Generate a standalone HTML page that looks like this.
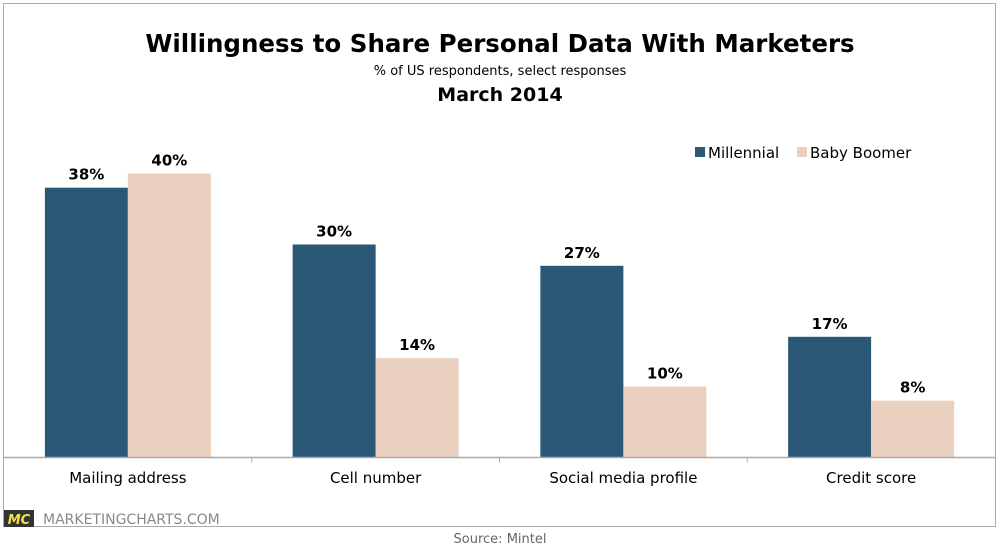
<!DOCTYPE html>
<html><head><meta charset="utf-8"><style>
body{margin:0;background:#fff;width:1000px;height:550px;overflow:hidden;font-family:"DejaVu Sans","Liberation Sans",sans-serif}
</style></head><body>
<svg width="1000" height="550">
<rect x="3.5" y="3.5" width="992" height="523" fill="none" stroke="#aaa"/>
<text x="500" y="52" text-anchor="middle" font-family="DejaVu Sans, sans-serif" font-weight="bold" font-size="24.5" fill="#000">Willingness to Share Personal Data With Marketers</text>
<text x="500" y="75" text-anchor="middle" font-size="13" fill="#000">% of US respondents, select responses</text>
<text x="500" y="101" text-anchor="middle" font-weight="bold" font-size="19" fill="#000">March 2014</text>
<g>
<rect x="695" y="147" width="10" height="10" fill="#2b5877"/>
<text x="708" y="158" font-size="15">Millennial</text>
<rect x="797" y="147" width="10" height="10" fill="#ead1bf"/>
<text x="810" y="158" font-size="15">Baby Boomer</text>
</g>
<g id="plot"></g>
<rect x="4" y="510" width="30" height="17" fill="#333"/>
<text x="19" y="524" text-anchor="middle" font-size="13" font-weight="bold" font-style="italic" fill="#f5e04a">MC</text>
<text x="43" y="524" font-size="14" fill="#888">MARKETINGCHARTS.COM</text>
<text x="500" y="543" text-anchor="middle" font-size="13" fill="#666">Source: Mintel</text>
</svg>
<script>
const categories=["Mailing address","Cell number","Social media profile","Credit score"];
const millennial=[38,30,27,17];
const boomer=[40,14,10,8];
const NS="http://www.w3.org/2000/svg";
const g=document.getElementById('plot');
const x0=4,x1=995,base=457.5,pxPer=7.1;
const step=(x1-x0)/categories.length,bw=83;
const y=v=>base-v*pxPer;
function mk(t,a){const e=document.createElementNS(NS,t);for(const k in a)e.setAttribute(k,a[k]);g.appendChild(e);return e;}
categories.forEach((c,i)=>{
 const cx=x0+step*(i+0.5);
 [[millennial[i],cx-bw,'#2b5877','millennial'],[boomer[i],cx,'#ead1bf','boomer']].forEach(([v,x,col,s])=>{
  const r=mk('rect',{x:x,y:y(v),width:bw,height:base-y(v),fill:col});
  
  
  const t=mk('text',{x:x+bw/2,y:y(v)-8,'text-anchor':'middle','font-size':15,'font-weight':'bold'});
  t.textContent=v+'%';
  
  
 });
 const l=mk('text',{x:cx,y:483,'text-anchor':'middle','font-size':15});
 l.textContent=c;
 
 
 if(i>0){const tk=mk('line',{x1:x0+step*i,x2:x0+step*i,y1:base,y2:base+5,stroke:'#aaa'});
 
 }
});
const ax=mk('line',{x1:x0,x2:x1,y1:base,y2:base,stroke:'#aaa','stroke-width':1.5});


</script>
</body></html>
